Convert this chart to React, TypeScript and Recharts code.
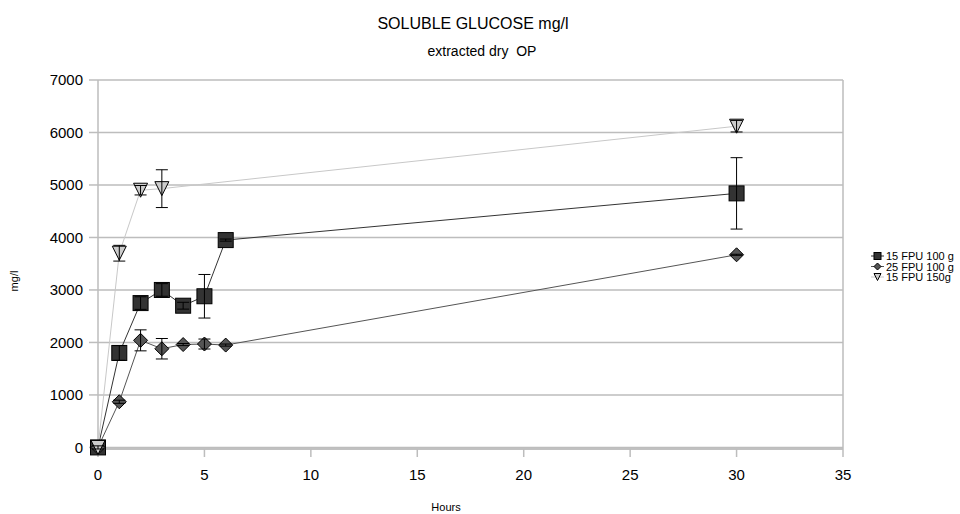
import { LineChart, Line, XAxis, YAxis, CartesianGrid, ErrorBar, ReferenceLine } from "recharts";

const FONT = "'Liberation Sans', Arial, sans-serif";

// hours sampled
const hours = [0, 1, 2, 3, 4, 5, 6, 30];
const hours150 = [0, 1, 2, 3, 30];

// soluble glucose mg/l, with +/- error
const fpu15g100 = [0, 1800, 2750, 3000, 2700, 2880, 3950, 4840];
const fpu15g100Err = [30, 140, 120, 120, 65, 415, 20, 680];
const fpu25g100 = [0, 870, 2040, 1880, 1960, 1970, 1950, 3670];
const fpu25g100Err = [0, 30, 200, 195, 20, 95, 20, 10];
const fpu15g150 = [0, 3700, 4900, 4930, 6120];
const fpu15g150Err = [0, 150, 90, 360, 110];

const xTicks = [0, 5, 10, 15, 20, 25, 30, 35];
const yTicks = [0, 1000, 2000, 3000, 4000, 5000, 6000, 7000];

const toRows = (xs: number[], ys: number[], es: number[]) =>
  xs.map((x, i) => ({ x, y: ys[i], e: es[i] }));

const rows1 = toRows(hours, fpu15g100, fpu15g100Err);
const rows2 = toRows(hours, fpu25g100, fpu25g100Err);
const rows3 = toRows(hours150, fpu15g150, fpu15g150Err);

const GRID = "#bdbdbd";

function marker(kind: string, cx: number, cy: number, s: number, key?: string) {
  if (kind === "square") {
    return <rect key={key} x={cx - s} y={cy - s} width={s * 2} height={s * 2} fill="#333333" stroke="#000" strokeWidth={1} />;
  }
  if (kind === "diamond") {
    return (
      <polygon key={key} points={`${cx},${cy - s} ${cx + s},${cy} ${cx},${cy + s} ${cx - s},${cy}`}
        fill="#555555" stroke="#000" strokeWidth={1} />
    );
  }
  return (
    <polygon key={key} points={`${cx - s},${cy - s} ${cx + s},${cy - s} ${cx},${cy + s}`}
      fill="#cccccc" stroke="#000" strokeWidth={1} />
  );
}

const dotFor = (kind: string, size: number) => (props: any) => {
  const { cx, cy, index } = props;
  if (cx == null || cy == null) return <g key={`${kind}-${index}`} />;
  return marker(kind, cx, cy, size, `${kind}-${index}`);
};

const series = [
  { name: "15 FPU 100 g", rows: rows1, stroke: "#333333", kind: "square", size: 7.5 },
  { name: "25 FPU 100 g", rows: rows2, stroke: "#555555", kind: "diamond", size: 7 },
  { name: "15 FPU 150g", rows: rows3, stroke: "#c8c8c8", kind: "triangle", size: 7 },
];

export default function App() {
  return (
    <div style={{ position: "absolute", left: 0, top: 0, width: 960, height: 514, background: "#fff", fontFamily: FONT }}>
      <LineChart width={960} height={514} margin={{ top: 80, right: 117, bottom: 35, left: 0 }}>
        <CartesianGrid vertical={false} stroke={GRID} strokeWidth={1.5} />
        <XAxis
          type="number" dataKey="x" domain={[0, 35]} ticks={xTicks} height={30}
          axisLine={{ stroke: GRID, strokeWidth: 1.5 }} tickLine={{ stroke: GRID, strokeWidth: 1.5 }}
          tickSize={8} tickMargin={12}
          tick={{ fill: "#000", fontSize: 15, fontFamily: FONT }}
        />
        <YAxis
          type="number" domain={[0, 7000]} ticks={yTicks} width={98}
          axisLine={{ stroke: GRID, strokeWidth: 1.5 }} tickLine={{ stroke: GRID, strokeWidth: 1.5 }}
          tickSize={9} tickMargin={6}
          tick={{ fill: "#000", fontSize: 15, fontFamily: FONT }}
        />
        <ReferenceLine x={35} stroke={GRID} strokeWidth={1.5} />
        {series.map((s) => (
          <Line
            key={s.name} data={s.rows} dataKey="y" name={s.name} stroke={s.stroke} strokeWidth={1}
            dot={dotFor(s.kind, s.size)} activeDot={false} isAnimationActive={false}
          />
        ))}
        {series.map((s) => (
          <Line
            key={s.name + "-err"} data={s.rows} dataKey="y" stroke="none" dot={false}
            activeDot={false} legendType="none" isAnimationActive={false} zIndex={900}
          >
            <ErrorBar dataKey="e" direction="y" width={6} stroke="#000" strokeWidth={1} zIndex={900} />
          </Line>
        ))}
      </LineChart>

      <svg width={960} height={514} style={{ position: "absolute", left: 0, top: 0, pointerEvents: "none" }}>
        <text x={473} y={29} textAnchor="middle" fontSize={16} fontFamily={FONT} fill="#000">
          SOLUBLE GLUCOSE mg/l
        </text>
        <text x={482} y={56} textAnchor="middle" fontSize={14} fontFamily={FONT} fill="#000" style={{ whiteSpace: "pre" }}>
          extracted dry  OP
        </text>
        <text x={446} y={511} textAnchor="middle" fontSize={11} fontFamily={FONT} fill="#000">
          Hours
        </text>
        <text x={18} y={281} textAnchor="middle" fontSize={11} fontFamily={FONT} fill="#000" transform="rotate(-90 18 281)">
          mg/l
        </text>
        {series.map((s, i) => {
          const y = 256 + i * 10.5;
          return (
            <g key={s.name}>
              <line x1={871} x2={884} y1={y} y2={y} stroke={s.stroke} strokeWidth={1} />
              {marker(s.kind, 877.5, y, 3.5)}
              <text x={886} y={y + 4} fontSize={11} fontFamily={FONT} fill="#000">{s.name}</text>
            </g>
          );
        })}
      </svg>
    </div>
  );
}
